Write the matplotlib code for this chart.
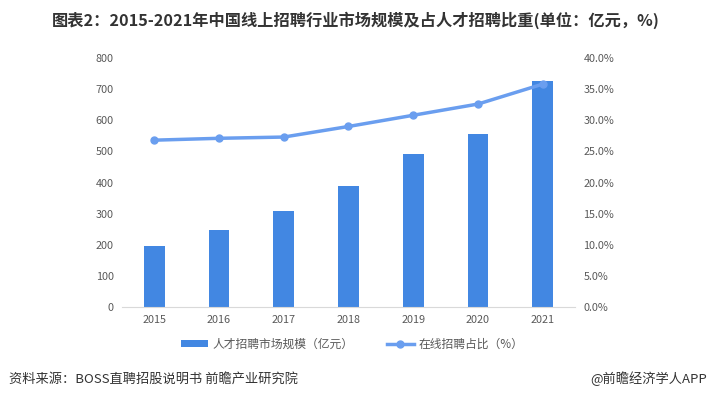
import numpy as np
import matplotlib.pyplot as plt
from matplotlib.ticker import FuncFormatter

plt.rcParams['font.family'] = ['Noto Sans CJK SC', 'DejaVu Sans']

years = ['2015', '2016', '2017', '2018', '2019', '2020', '2021']
market_size = [196, 247, 309, 390, 492, 556, 727]
online_share = [26.8, 27.1, 27.3, 29.0, 30.8, 32.6, 35.8]

bar_color = '#4287E2'
line_color = '#6A9EEF'
tick_color = '#595959'

fig = plt.figure(figsize=(7.11, 3.98), dpi=100)
ax = fig.add_axes([0.1716, 0.2286, 0.6371, 0.6257])
x = np.arange(len(years))

bars = ax.bar(x, market_size, width=0.32, color=bar_color, zorder=2,
              label='人才招聘市场规模（亿元）')
ax.set_ylim(0, 800)
ax.set_yticks(range(0, 801, 100))
ax.set_xlim(-0.5, len(years) - 0.5)
ax.set_xticks(x)
ax.set_xticklabels(years)

ax2 = ax.twinx()
line, = ax2.plot(x, online_share, color=line_color, lw=2.5, marker='o',
                 markersize=5, zorder=3, label='在线招聘占比（%）')
ax2.set_ylim(0, 40)
ax2.set_yticks(np.arange(0, 40.1, 5))
ax2.yaxis.set_major_formatter(FuncFormatter(lambda v, p: f'{v:.1f}%'))

for a in (ax, ax2):
    for s in ('top', 'left', 'right'):
        a.spines[s].set_visible(False)
    a.spines['bottom'].set_color('#D9D9D9')
    a.tick_params(length=0, labelsize=7.8, colors=tick_color, pad=6)
ax2.spines['bottom'].set_visible(False)

fig.legend(handles=[bars, line], loc='center', bbox_to_anchor=(0.495, 0.135),
           ncol=2, frameon=False, fontsize=8.5, labelcolor=tick_color,
           handlelength=2.3, handletextpad=0.4, columnspacing=2.8, handleheight=0.5)

fig.text(0.5, 0.95, '图表2：2015-2021年中国线上招聘行业市场规模及占人才招聘比重(单位：亿元，%)',
         ha='center', va='center', fontsize=11.7, fontweight='bold', color='#333333')
fig.text(0.012, 0.048, '资料来源：BOSS直聘招股说明书 前瞻产业研究院', ha='left', va='center',
         fontsize=9.5, color='#333333')
fig.text(0.995, 0.048, '@前瞻经济学人APP', ha='right', va='center',
         fontsize=9.5, color='#333333')

fig.savefig('out.png', dpi=100)
